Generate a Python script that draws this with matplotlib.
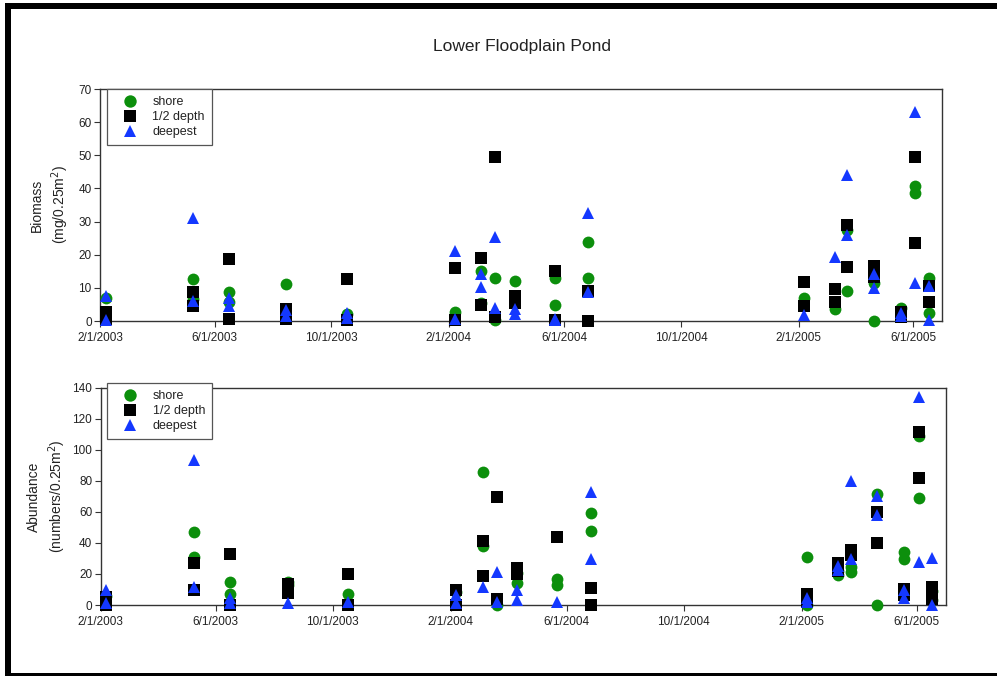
import matplotlib
matplotlib.use("Agg")
import matplotlib.pyplot as plt
from matplotlib.patches import Rectangle
from datetime import datetime

plt.rcParams["font.family"] = ["Liberation Sans", "DejaVu Sans"]

# sampling dates
sample_dates = ["2003-02-07", "2003-05-09", "2003-06-16", "2003-08-15", "2003-10-17",
                "2004-02-07", "2004-03-06", "2004-03-20", "2004-04-10", "2004-05-22",
                "2004-06-26", "2005-02-07", "2005-03-11", "2005-03-24", "2005-04-21",
                "2005-05-19", "2005-06-03", "2005-06-17"]

# biomass (mg/0.25m2), replicates per sampling date
bio_shore = [[6.9], [12.6, 6.6], [8.9, 5.8], [11.2], [2.0],
             [2.6], [15.2, 5.5], [13.1, 0.2], [12.1], [13.1, 4.8],
             [23.7, 13.1], [6.9], [3.5], [27.5, 9.1], [11.4, 0.0],
             [3.8], [40.8, 38.6], [12.9, 2.3]]
bio_half = [[2.6, 0.5], [8.9, 4.5], [18.6, 0.5], [3.5, 0.5], [12.7, 0.2],
            [16.1, 0.2], [19.1, 4.7], [49.4, 1.1], [7.6, 5.3], [15.2, 0.2],
            [9.1, 0.0], [11.8, 4.6], [9.7, 5.8], [29.0, 16.4], [16.7, 13.4],
            [2.8, 1.1], [49.4, 23.5], [10.5, 5.6]]
bio_deep = [[7.5, 0.3], [31.0, 6.1], [6.9, 4.5], [3.3, 1.5], [2.5, 1.0],
            [21.0, 0.5], [14.1, 10.4], [25.2, 3.8], [3.5, 2.2], [0.5, 0.2],
            [32.5, 8.6], [1.7], [19.4], [44.1, 25.8], [14.1, 9.9],
            [2.5, 1.5], [63.2, 11.6], [10.7, 0.3]]

# abundance (numbers/0.25m2)
abu_shore = [[6.0], [46.8, 31.1], [14.6, 6.9], [15.0, 13.0], [6.9],
             [8.6], [85.5, 38.0], [0.3], [20.4, 14.0], [16.8, 12.9],
             [59.0, 47.9], [30.7, 0.3], [22.0, 19.3], [24.3, 21.0], [71.3, 0.0],
             [34.4, 29.6], [108.9, 69.1], [9.0, 3.0]]
abu_half = [[5.4, 0.0], [26.8, 9.7], [32.9, 0.0], [13.5, 7.5], [20.0, 0.0],
            [9.7, 0.0], [41.4, 18.9], [69.8, 3.9], [23.6, 20.0], [44.0],
            [10.7, 0.0], [6.9, 2.0], [26.8, 22.0], [35.4, 32.2], [60.1, 39.7],
            [10.3, 6.4], [111.3, 82.0], [11.4, 3.7]]
abu_deep = [[9.7, 1.5], [93.4, 11.8], [4.3, 1.5], [1.5], [1.7],
            [6.4, 1.1], [11.8], [21.5, 1.7], [9.7, 3.2], [2.2],
            [73.0, 29.4], [4.3, 1.7], [24.9, 22.6], [79.9, 29.4], [70.2, 58.0],
            [9.7, 4.3], [134.2, 27.5], [30.5, 0.3]]

series_labels = ["shore", "1/2 depth", "deepest"]
tick_dates = ["2003-02-01", "2003-06-01", "2003-10-01", "2004-02-01",
              "2004-06-01", "2004-10-01", "2005-02-01", "2005-06-01"]

dates = [datetime.strptime(d, "%Y-%m-%d") for d in sample_dates]
ticks = [datetime.strptime(d, "%Y-%m-%d") for d in tick_dates]


def expand(reps):
    # one point per replicate, at its sampling date
    xs, ys = [], []
    for d, vals in zip(dates, reps):
        for v in vals:
            xs.append(d)
            ys.append(v)
    return xs, ys


styles = [dict(marker="o", color="#0c8f0c"),
          dict(marker="s", color="black"),
          dict(marker="^", color="#1438ff")]

W, H = 997, 676
fig = plt.figure(figsize=(W / 100, H / 100), dpi=100)

ax1 = fig.add_axes([100 / W, 1 - 321 / H, 842 / W, 232 / H])
ax2 = fig.add_axes([100.5 / W, 1 - 605 / H, 845 / W, 217.3 / H])

panels = [(ax1, [bio_shore, bio_half, bio_deep], 70, 10, "Biomass\n(mg/0.25m$^2$)", 1.0, -0.035),
          (ax2, [abu_shore, abu_half, abu_deep], 140, 20, "Abundance\n(numbers/0.25m$^2$)", 1.0216, -0.039)]

for ax, data, ymax, ystep, ylab, legtop, labx in panels:
    for reps, st, lab in zip(data, styles, series_labels):
        xs, ys = expand(reps)
        ax.plot(xs, ys, linestyle="none", marker=st["marker"], color=st["color"],
                markersize=8.5, markeredgewidth=0, label=lab, clip_on=False, zorder=3)
    ax.set_xlim(datetime(2003, 2, 1), datetime(2005, 7, 1))
    ax.set_ylim(0, ymax)
    ax.set_yticks(range(0, ymax + 1, ystep))
    ax.set_xticks(ticks)
    ax.set_xticklabels([f"{t.month}/{t.day}/{t.year}" for t in ticks])
    ax.tick_params(axis="x", direction="out", length=4, width=0.8, labelsize=8.5,
                   colors="#333333", labelcolor="#222222", pad=4)
    ax.tick_params(axis="y", direction="out", length=4, width=0.8, labelsize=8.5,
                   colors="#333333", labelcolor="#222222", pad=2)
    for s in ax.spines.values():
        s.set_color("#333333")
        s.set_linewidth(1.0)
    ax.set_ylabel(ylab, fontsize=10, color="#222222", linespacing=1.3)
    ax.yaxis.set_label_coords(labx, 0.5)
    leg = ax.legend(loc="upper left", bbox_to_anchor=(0.008, legtop), borderaxespad=0,
                    fontsize=9, frameon=True, fancybox=False, edgecolor="#555555",
                    handlelength=2.6, handletextpad=0.5, labelspacing=0.25,
                    borderpad=0.55, framealpha=1, markerscale=1.05, numpoints=1)
    leg.get_frame().set_linewidth(0.9)
    for t in leg.get_texts():
        t.set_color("#222222")
    leg.set_zorder(5)

fig.text(522 / W, 1 - 46 / H, "Lower Floodplain Pond", fontsize=12.5,
         ha="center", va="center", color="#222222")

# black frame on top, left and bottom edge
fig.patches.append(Rectangle((5 / W, 1 - 9 / H), 1 - 5 / W, 6 / H, transform=fig.transFigure,
                             facecolor="black", edgecolor="none"))
fig.patches.append(Rectangle((5 / W, 0), 6 / W, 1 - 3 / H, transform=fig.transFigure,
                             facecolor="black", edgecolor="none"))
fig.patches.append(Rectangle((5 / W, 0), 1 - 5 / W, 3 / H, transform=fig.transFigure,
                             facecolor="black", edgecolor="none"))

fig.savefig("out.png", dpi=100)
